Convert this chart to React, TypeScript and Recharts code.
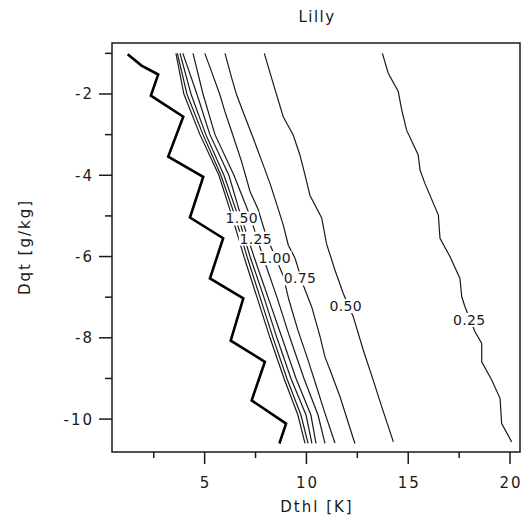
import { ScatterChart, Scatter, XAxis, YAxis, ReferenceArea, ReferenceDot } from 'recharts'

// ─── Axes ───────────────────────────────────────────────────────────
const xDomain = [0.45, 20.49]
const yDomain = [-10.81, -0.745]
const xTicks = [2.5, 5, 7.5, 10, 12.5, 15, 17.5, 20]
const xLabeled = [5, 10, 15, 20]
const yTicks = [-10, -9, -8, -7, -6, -5, -4, -3, -2, -1]
const yLabeled = [-10, -8, -6, -4, -2]

// ─── Thick left boundary (zigzag) ───────────────────────────────────
const edgeX = [1.22, 1.9, 2.72, 2.36, 3.95, 3.21, 4.93, 4.28, 5.91, 5.26, 6.9, 6.28, 7.96, 7.31, 9.0, 8.67]
const edgeY = [-1.02, -1.3, -1.52, -2.04, -2.56, -3.54, -4.04, -5.04, -5.55, -6.54, -7.03, -8.07, -8.59, -9.54, -10.11, -10.6]

// ─── Tight bundle of contours (share one set of Dqt levels) ─────────
const bundleY = [-1.0, -2.0, -3.0, -4.0, -5.0, -6.0, -7.0, -8.0, -9.0, -9.9, -10.6]
const c225X = [3.59, 3.98, 4.77, 5.7, 6.34, 6.93, 7.57, 8.21, 8.9, 9.58, 9.93]
const c200X = [3.66, 4.13, 4.92, 5.8, 6.49, 7.08, 7.72, 8.36, 9.04, 9.73, 10.08]
const c175X = [3.79, 4.33, 5.06, 5.95, 6.64, 7.23, 7.91, 8.55, 9.24, 9.98, 10.27]
const c150X = [3.93, 4.62, 5.26, 6.19, 6.78, 7.42, 8.11, 8.8, 9.49, 10.22, 10.47]
const c125X = [4.43, 4.92, 5.51, 6.44, 7.23, 7.86, 8.55, 9.19, 9.88, 10.57, 10.91]

// ─── Wider contours ─────────────────────────────────────────────────
const c100X = [5.01, 5.34, 5.75, 6.0, 6.33, 6.82, 7.23, 7.62, 8.01, 8.85, 9.14, 9.58, 10.08, 10.47, 10.86, 11.4]
const c100Y = [-1.0, -1.45, -2.02, -2.44, -2.93, -3.67, -4.4, -4.83, -5.47, -6.46, -7.07, -7.81, -8.55, -9.16, -9.78, -10.59]

const c075X = [6.0, 6.33, 6.57, 6.98, 7.39, 7.88, 8.21, 8.55, 8.86, 9.11, 9.44, 9.84, 10.26, 10.67, 10.91, 11.16, 11.65, 12.38]
const c075Y = [-1.0, -1.61, -2.02, -2.56, -3.09, -3.75, -4.2, -4.73, -5.22, -5.72, -6.04, -6.7, -7.24, -7.97, -8.47, -8.79, -9.45, -10.6]

const c050X = [7.93, 8.29, 8.86, 9.35, 9.68, 9.93, 10.17, 10.75, 10.99, 11.4, 11.81, 12.3, 12.79, 13.28, 13.7, 14.27]
const c050Y = [-1.0, -1.61, -2.56, -3.01, -3.5, -3.99, -4.49, -5.05, -5.69, -6.33, -6.91, -7.48, -8.3, -9.04, -9.7, -10.56]

const c025X = [13.73, 14.02, 14.51, 14.68, 14.92, 15.49, 15.58, 15.82, 16.48, 16.56, 17.05, 17.54, 17.63, 17.79, 18.28, 18.61, 18.61, 19.1, 19.51, 19.59, 20.08]
const c025Y = [-1.0, -1.49, -1.94, -2.39, -2.89, -3.5, -3.87, -4.2, -4.98, -5.55, -6.0, -6.54, -6.99, -7.24, -7.85, -8.14, -8.59, -9.04, -9.49, -10.11, -10.56]

// ─── Contour labels ─────────────────────────────────────────────────
const labelText = ['1.50', '1.25', '1.00', '0.75', '0.50', '0.25']
const labelX = [6.82, 7.51, 8.44, 9.68, 11.93, 18.0]
const labelY = [-5.06, -5.56, -6.04, -6.54, -7.22, -7.56]

const pts = (xs: number[], ys: number[]) => xs.map((x, i) => ({ x, y: ys[i] }))

const contours = [
  pts(c225X, bundleY),
  pts(c200X, bundleY),
  pts(c175X, bundleY),
  pts(c150X, bundleY),
  pts(c125X, bundleY),
  pts(c100X, c100Y),
  pts(c075X, c075Y),
  pts(c050X, c050Y),
  pts(c025X, c025Y),
]

const INK = '#1a1a1a'
const FONT = '"DejaVu Sans", sans-serif'

const noDot = () => <g />

function XTick({ x, y, payload }: any) {
  const major = xLabeled.includes(payload.value)
  return (
    <g>
      <line x1={x} x2={x} y1={y} y2={y + (major ? 12 : 6)} stroke={INK} strokeWidth={1.5} />
      {major && (
        <text x={x + 1} y={y + 36} textAnchor="middle" fontFamily={FONT} fontSize={15} letterSpacing={2} fill={INK}>
          {payload.value}
        </text>
      )}
    </g>
  )
}

function YTick({ x, y, payload }: any) {
  const major = yLabeled.includes(payload.value)
  return (
    <g>
      <line x1={x} x2={x - (major ? 13 : 7)} y1={y} y2={y} stroke={INK} strokeWidth={1.5} />
      {major && (
        <text x={x - 18} y={y + 5.5} textAnchor="end" fontFamily={FONT} fontSize={15} letterSpacing={2} fill={INK}>
          {payload.value}
        </text>
      )}
    </g>
  )
}

function ContourLabel({ cx, cy, text }: any) {
  return (
    <g>
      <rect x={cx - 17} y={cy - 7} width={34} height={14} fill="#fff" />
      <text x={cx} y={cy + 5} textAnchor="middle" fontFamily={FONT} fontSize={14} letterSpacing={0.3} fill={INK}>
        {text}
      </text>
    </g>
  )
}

export default function App() {
  return (
    <div style={{ position: 'absolute', left: 0, top: 0, width: 522, height: 521, background: '#fff' }}>
      <ScatterChart width={522} height={521} margin={{ top: 43, right: 2, bottom: 0, left: 0 }}>
        <XAxis
          type="number"
          dataKey="x"
          domain={xDomain}
          ticks={xTicks}
          interval={0}
          height={69}
          axisLine={false}
          tickLine={false}
          tickSize={0}
          tickMargin={0}
          tick={<XTick />}
          allowDataOverflow
        />
        <YAxis
          type="number"
          dataKey="y"
          domain={yDomain}
          ticks={yTicks}
          interval={0}
          width={112}
          axisLine={false}
          tickLine={false}
          tickSize={0}
          tickMargin={0}
          tick={<YTick />}
          allowDataOverflow
        />
        <ReferenceArea
          x1={xDomain[0]}
          x2={xDomain[1]}
          y1={yDomain[0]}
          y2={yDomain[1]}
          fill="none"
          fillOpacity={0}
          stroke={INK}
          strokeWidth={1.5}
          strokeOpacity={1}
        />
        <Scatter
          data={pts(edgeX, edgeY)}
          line={{ stroke: '#000', strokeWidth: 2.6 }}
          lineType="joint"
          shape={noDot}
          isAnimationActive={false}
        />
        {contours.map((d, i) => (
          <Scatter
            key={i}
            data={d}
            line={{ stroke: INK, strokeWidth: 1.2 }}
            lineType="joint"
            shape={noDot}
            isAnimationActive={false}
          />
        ))}
        {labelText.map((t, i) => (
          <ReferenceDot
            key={t}
            x={labelX[i]}
            y={labelY[i]}
            r={0}
            shape={(p: any) => <ContourLabel cx={p.cx} cy={p.cy} text={t} />}
          />
        ))}
      </ScatterChart>
      <svg width={522} height={521} style={{ position: 'absolute', left: 0, top: 0, pointerEvents: 'none' }}>
        <text x={317} y={22} textAnchor="middle" fontFamily={FONT} fontSize={15} letterSpacing={1.5} fill={INK}>
          Lilly
        </text>
        <text x={317} y={512} textAnchor="middle" fontFamily={FONT} fontSize={15} letterSpacing={2} fill={INK}>
          Dthl [K]
        </text>
        <text
          x={30}
          y={247}
          textAnchor="middle"
          fontFamily={FONT}
          fontSize={15}
          letterSpacing={2}
          fill={INK}
          transform="rotate(-90, 30, 247)"
        >
          Dqt [g/kg]
        </text>
      </svg>
    </div>
  )
}
